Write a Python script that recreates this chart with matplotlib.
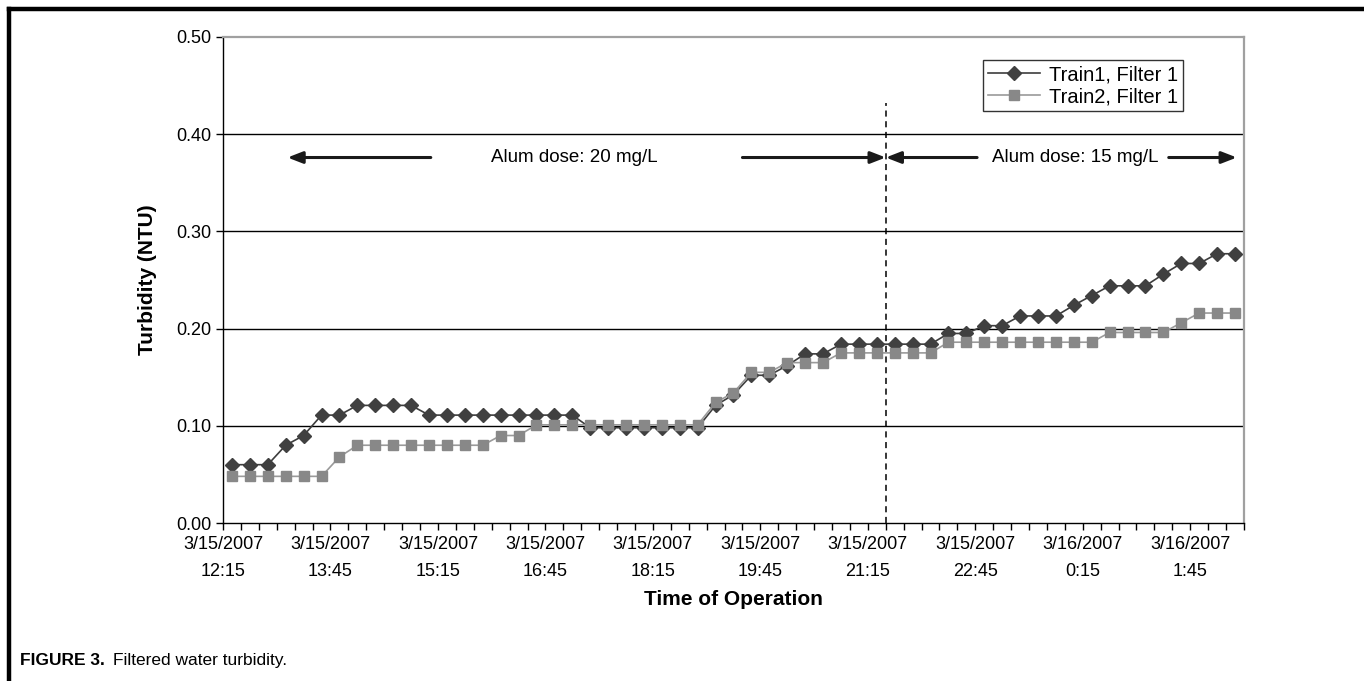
"""
plot.py - filtered water turbidity, two trains, alum dose change.
"""

import matplotlib
matplotlib.use("Agg")
import matplotlib.pyplot as plt
from matplotlib.lines import Line2D
from matplotlib.ticker import FormatStrFormatter

plt.rcParams["font.family"] = ["Liberation Sans", "DejaVu Sans"]

# ---------------------------------------------------------------------------
# Data (turbidity, NTU) - one reading every 15 minutes from 3/15/2007 12:15
# ---------------------------------------------------------------------------

train1 = [0.060, 0.060, 0.060, 0.080, 0.090, 0.111, 0.111, 0.121, 0.121, 0.121,
          0.121, 0.111, 0.111, 0.111, 0.111, 0.111, 0.111, 0.111, 0.111, 0.111,
          0.098, 0.098, 0.098, 0.098, 0.098, 0.098, 0.098, 0.121, 0.132, 0.152,
          0.152, 0.162, 0.174, 0.174, 0.184, 0.184, 0.184, 0.184, 0.184, 0.184,
          0.195, 0.195, 0.203, 0.203, 0.213, 0.213, 0.213, 0.224, 0.234, 0.244,
          0.244, 0.244, 0.256, 0.267, 0.267, 0.277, 0.277]

train2 = [0.048, 0.048, 0.048, 0.048, 0.048, 0.048, 0.068, 0.080, 0.080, 0.080,
          0.080, 0.080, 0.080, 0.080, 0.080, 0.090, 0.090, 0.101, 0.101, 0.101,
          0.101, 0.101, 0.101, 0.101, 0.101, 0.101, 0.101, 0.124, 0.134, 0.155,
          0.155, 0.165, 0.165, 0.165, 0.175, 0.175, 0.175, 0.175, 0.175, 0.175,
          0.186, 0.186, 0.186, 0.186, 0.186, 0.186, 0.186, 0.186, 0.186, 0.196,
          0.196, 0.196, 0.196, 0.206, 0.216, 0.216, 0.216]

tick_labels = ["3/15/2007\n12:15", "3/15/2007\n13:45", "3/15/2007\n15:15",
               "3/15/2007\n16:45", "3/15/2007\n18:15", "3/15/2007\n19:45",
               "3/15/2007\n21:15", "3/15/2007\n22:45", "3/16/2007\n0:15",
               "3/16/2007\n1:45"]
label_every = 6          # readings between labelled ticks
dose_change = 37         # category index where alum dose changed
dose_text = ["Alum dose: 20 mg/L", "Alum dose: 15 mg/L"]

# ---------------------------------------------------------------------------
# Figure
# ---------------------------------------------------------------------------

n = len(train1)
x = [i + 0.5 for i in range(n)]

fig = plt.figure(figsize=(13.64, 6.81), dpi=100)
ax = fig.add_axes([0.1635, 0.232, 0.7485, 0.7137])

ax.plot(x, train1, color="#3d3d3d", lw=1.2, marker="D", markersize=6.8,
        markerfacecolor="#404040", markeredgecolor="#404040",
        label="Train1, Filter 1", zorder=4)
ax.plot(x, train2, color="#9a9a9a", lw=1.2, marker="s", markersize=7.8,
        markerfacecolor="#888888", markeredgecolor="#888888",
        label="Train2, Filter 1", zorder=5)

ax.set_xlim(0, n)
ax.set_ylim(0, 0.5)
ax.set_yticks([0.0, 0.1, 0.2, 0.3, 0.4, 0.5])
ax.yaxis.set_major_formatter(FormatStrFormatter("%.2f"))
ax.set_xticks(range(0, n + 1))
ax.set_xticklabels([tick_labels[i // label_every] if i % label_every == 0
                    and i // label_every < len(tick_labels) else ""
                    for i in range(0, n + 1)], linespacing=1.8)
ax.tick_params(axis="both", direction="out", length=5, width=1,
               color="black", labelsize=13)
ax.tick_params(axis="x", pad=4)

for y in [0.1, 0.2, 0.3, 0.4]:
    ax.axhline(y, color="black", lw=1.0, zorder=1)

for side in ["top", "right"]:
    ax.spines[side].set_color("#a0a0a0")
    ax.spines[side].set_linewidth(1.6)
for side in ["left", "bottom"]:
    ax.spines[side].set_color("black")
    ax.spines[side].set_linewidth(1.0)

ax.set_xlabel("Time of Operation", fontsize=15, fontweight="bold", labelpad=7)
ax.set_ylabel("Turbidity (NTU)", fontsize=15, fontweight="bold", labelpad=14)

# dose change marker and arrows
ax.plot([dose_change, dose_change], [0, 0.432], color="black", lw=1.1,
        linestyle=(0, (4, 3)), zorder=2)

arrow_y = 0.376
arrows = [(11.6, 3.6), (29.0, dose_change), (42.1, dose_change), (52.8, 56.6)]
for x0, x1 in arrows:
    ax.annotate("", xy=(x1, arrow_y), xytext=(x0, arrow_y),
                arrowprops=dict(arrowstyle="-|>,head_length=0.9,head_width=0.35",
                                color="#1a1a1a", lw=2.2, shrinkA=0, shrinkB=0))
ax.text(19.6, arrow_y, dose_text[0], ha="center", va="center", fontsize=13.5)
ax.text(47.6, arrow_y, dose_text[1], ha="center", va="center", fontsize=13.5)

leg = ax.legend(loc="upper right", bbox_to_anchor=(0.94, 0.952), fontsize=14.5,
                frameon=True, fancybox=False, edgecolor="black",
                handlelength=2.6, borderpad=0.25, labelspacing=0.15,
                handletextpad=0.4, borderaxespad=0)
leg.get_frame().set_linewidth(1.0)

# page frame and caption
fig.add_artist(Line2D([0.0066, 0.0066], [0.0, 0.987], color="black", lw=3.2,
                      transform=fig.transFigure, solid_capstyle="projecting"))
fig.add_artist(Line2D([0.0066, 1.0], [0.987, 0.987], color="black", lw=3.2,
                      transform=fig.transFigure, solid_capstyle="projecting"))
fig.text(0.015, 0.024, "FIGURE 3.", fontsize=12.5, fontweight="bold",
         va="baseline")
fig.text(0.083, 0.024, "Filtered water turbidity.", fontsize=12.5,
         va="baseline")

fig.savefig("out.png", dpi=100, facecolor="white")
plt.close(fig)
